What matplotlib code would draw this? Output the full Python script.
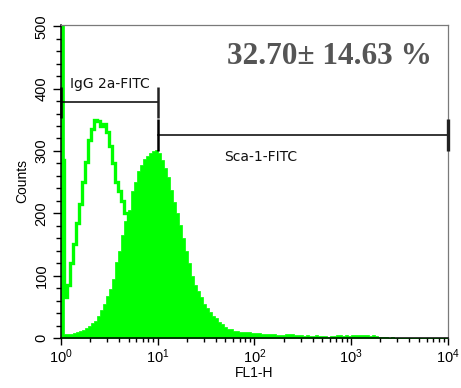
import numpy as np
import matplotlib
matplotlib.use("Agg")
import matplotlib.pyplot as plt
from matplotlib.ticker import MultipleLocator, LogLocator, NullFormatter, FixedLocator, FixedFormatter

plt.rcParams['font.family'] = ['Liberation Sans', 'DejaVu Sans']
plt.rcParams['mathtext.fontset'] = 'custom'
plt.rcParams['mathtext.rm'] = 'Liberation Sans'
plt.rcParams['mathtext.it'] = 'Liberation Sans:italic'
plt.rcParams['mathtext.bf'] = 'Liberation Sans:bold'

# FL1-H channels: 128 log-spaced bins spanning four decades
n_bins = 128
edges = np.logspace(0, 4, n_bins + 1)

# Isotype control (IgG 2a-FITC), drawn as an outline
isotype_counts = [
    285, 66, 85, 120, 150, 185, 215, 250, 282, 318, 335, 350, 348, 340, 344, 330,
    308, 280, 250, 236, 220, 200, 185, 168, 148, 128, 110, 92, 76, 62, 50, 40,
    32, 25, 20, 15, 12, 9, 7, 6, 5, 4, 4, 3, 3, 3, 2, 2,
    2, 2, 1, 1, 1, 0, 1, 1, 0, 0, 0, 0, 0, 0, 0, 0,
    0, 0, 0, 0, 0, 0, 0, 0, 0, 0, 0, 0, 0, 0, 0, 0,
    0, 0, 0, 0, 0, 0, 0, 0, 0, 0, 0, 0, 0, 0, 0, 0,
    0, 0, 0, 0, 0, 0, 0, 0, 0, 0, 0, 0, 0, 0, 0, 0,
    0, 0, 0, 0, 0, 0, 0, 0, 0, 0, 0, 0, 0, 0, 0, 0,
]

# Sca-1-FITC stained sample, drawn filled
sca1_counts = [
    600, 6, 7, 7, 8, 9, 11, 13, 16, 20, 24, 28, 35, 45, 55, 68,
    78, 95, 122, 140, 165, 188, 205, 235, 250, 268, 278, 287, 292, 296, 300, 302,
    296, 285, 272, 258, 238, 218, 200, 182, 160, 140, 120, 100, 85, 75, 66, 55,
    48, 42, 36, 32, 26, 22, 18, 15, 14, 12, 11, 10, 10, 9, 9, 8,
    8, 8, 7, 7, 6, 6, 6, 5, 5, 5, 7, 7, 6, 4, 4, 4,
    3, 4, 3, 3, 4, 3, 3, 3, 2, 3, 3, 4, 4, 3, 4, 3,
    4, 5, 4, 5, 4, 4, 3, 5, 3, 2, 1, 1, 0, 1, 0, 0,
    0, 0, 0, 0, 0, 0, 0, 0, 0, 0, 0, 0, 0, 0, 0, 0,
]

# Marker gates: (start, end, level, half-height of end bars)
igg_gate = (1.0, 10.0, 378, 25)
sca_gate = (10.0, 10000.0, 326, 26)
igg_label = "IgG 2a-FITC"
sca_label = "Sca-1-FITC"
percent_text = "32.70\u00b1 14.63 %"

x_major = [1, 10, 100, 1000, 10000]
x_major_labels = [r"$10^{0}$", r"$10^{1}$", r"$10^{2}$", r"$10^{3}$", r"$10^{4}$"]

green = "#00ff00"

fig = plt.figure(figsize=(4.61, 3.88), dpi=100)
ax = fig.add_axes([0.1323, 0.1289, 0.8395, 0.8067])

# isotype outline up to its last non-empty bin
iso = np.asarray(isotype_counts, dtype=float)
last = int(np.nonzero(iso)[0].max()) + 1
ax.stairs(iso[:last], edges[:last + 1], fill=False, color=green, linewidth=2.4, zorder=1)

# stained sample as one filled step polygon
sca = np.asarray(sca1_counts, dtype=float)
ax.fill_between(edges, np.append(sca, sca[-1]), 0, step="post", facecolor=green,
                edgecolor=green, linewidth=0.5, antialiased=False, zorder=1.2)

# gates
for (x0, x1, lvl, h) in (igg_gate, sca_gate):
    ax.plot([x0, x1], [lvl, lvl], color="black", lw=1.1, zorder=3)
    ax.plot([x0, x0], [lvl - h, lvl + h], color="black", lw=1.8, zorder=3,
            solid_capstyle="butt", clip_on=False)
    ax.plot([x1, x1], [lvl - h, lvl + h], color="#222222", lw=1.8 if x1 < 1e4 else 2.4,
            zorder=3, solid_capstyle="butt", clip_on=False)

ax.text(1.24, 401, igg_label, fontsize=10, ha="left", va="baseline", color="#111111",
        family=["DejaVu Sans"])
ax.text(48.4, 284, sca_label, fontsize=10, ha="left", va="baseline", color="#111111",
        family=["DejaVu Sans"])
ax.text(52, 440, percent_text, fontsize=22.5, ha="left", va="baseline",
        family=["Liberation Serif", "DejaVu Serif"], weight="bold", color="#555555")

ax.set_xscale("log")
ax.set_xlim(1, 10000)
ax.set_ylim(0, 502)

ax.xaxis.set_major_locator(FixedLocator(x_major))
ax.xaxis.set_major_formatter(FixedFormatter(x_major_labels))
ax.xaxis.set_minor_locator(LogLocator(base=10, subs=np.arange(2, 10)))
ax.xaxis.set_minor_formatter(NullFormatter())
ax.yaxis.set_major_locator(MultipleLocator(100))
ax.yaxis.set_minor_locator(MultipleLocator(20))

ax.tick_params(axis="both", which="both", direction="out", colors="black", labelsize=10.5)
ax.tick_params(axis="y", which="major", length=6, width=1.0, pad=3)
ax.tick_params(axis="y", which="minor", length=3.5, width=1.0)
ax.tick_params(axis="x", which="major", length=5, width=1.0, pad=2)
ax.tick_params(axis="x", which="minor", length=3, width=1.0)
for t in ax.get_yticklabels():
    t.set_rotation(90)
    t.set_va("center")

for s in ("left", "bottom"):
    ax.spines[s].set_color("black")
    ax.spines[s].set_linewidth(1.1)
for s in ("top", "right"):
    ax.spines[s].set_color("#7a7a7a")
    ax.spines[s].set_linewidth(0.9)

ax.set_ylabel("Counts", fontsize=10, labelpad=4)
ax.set_xlabel("FL1-H", fontsize=10, labelpad=0)

fig.savefig("out.png", dpi=100)
